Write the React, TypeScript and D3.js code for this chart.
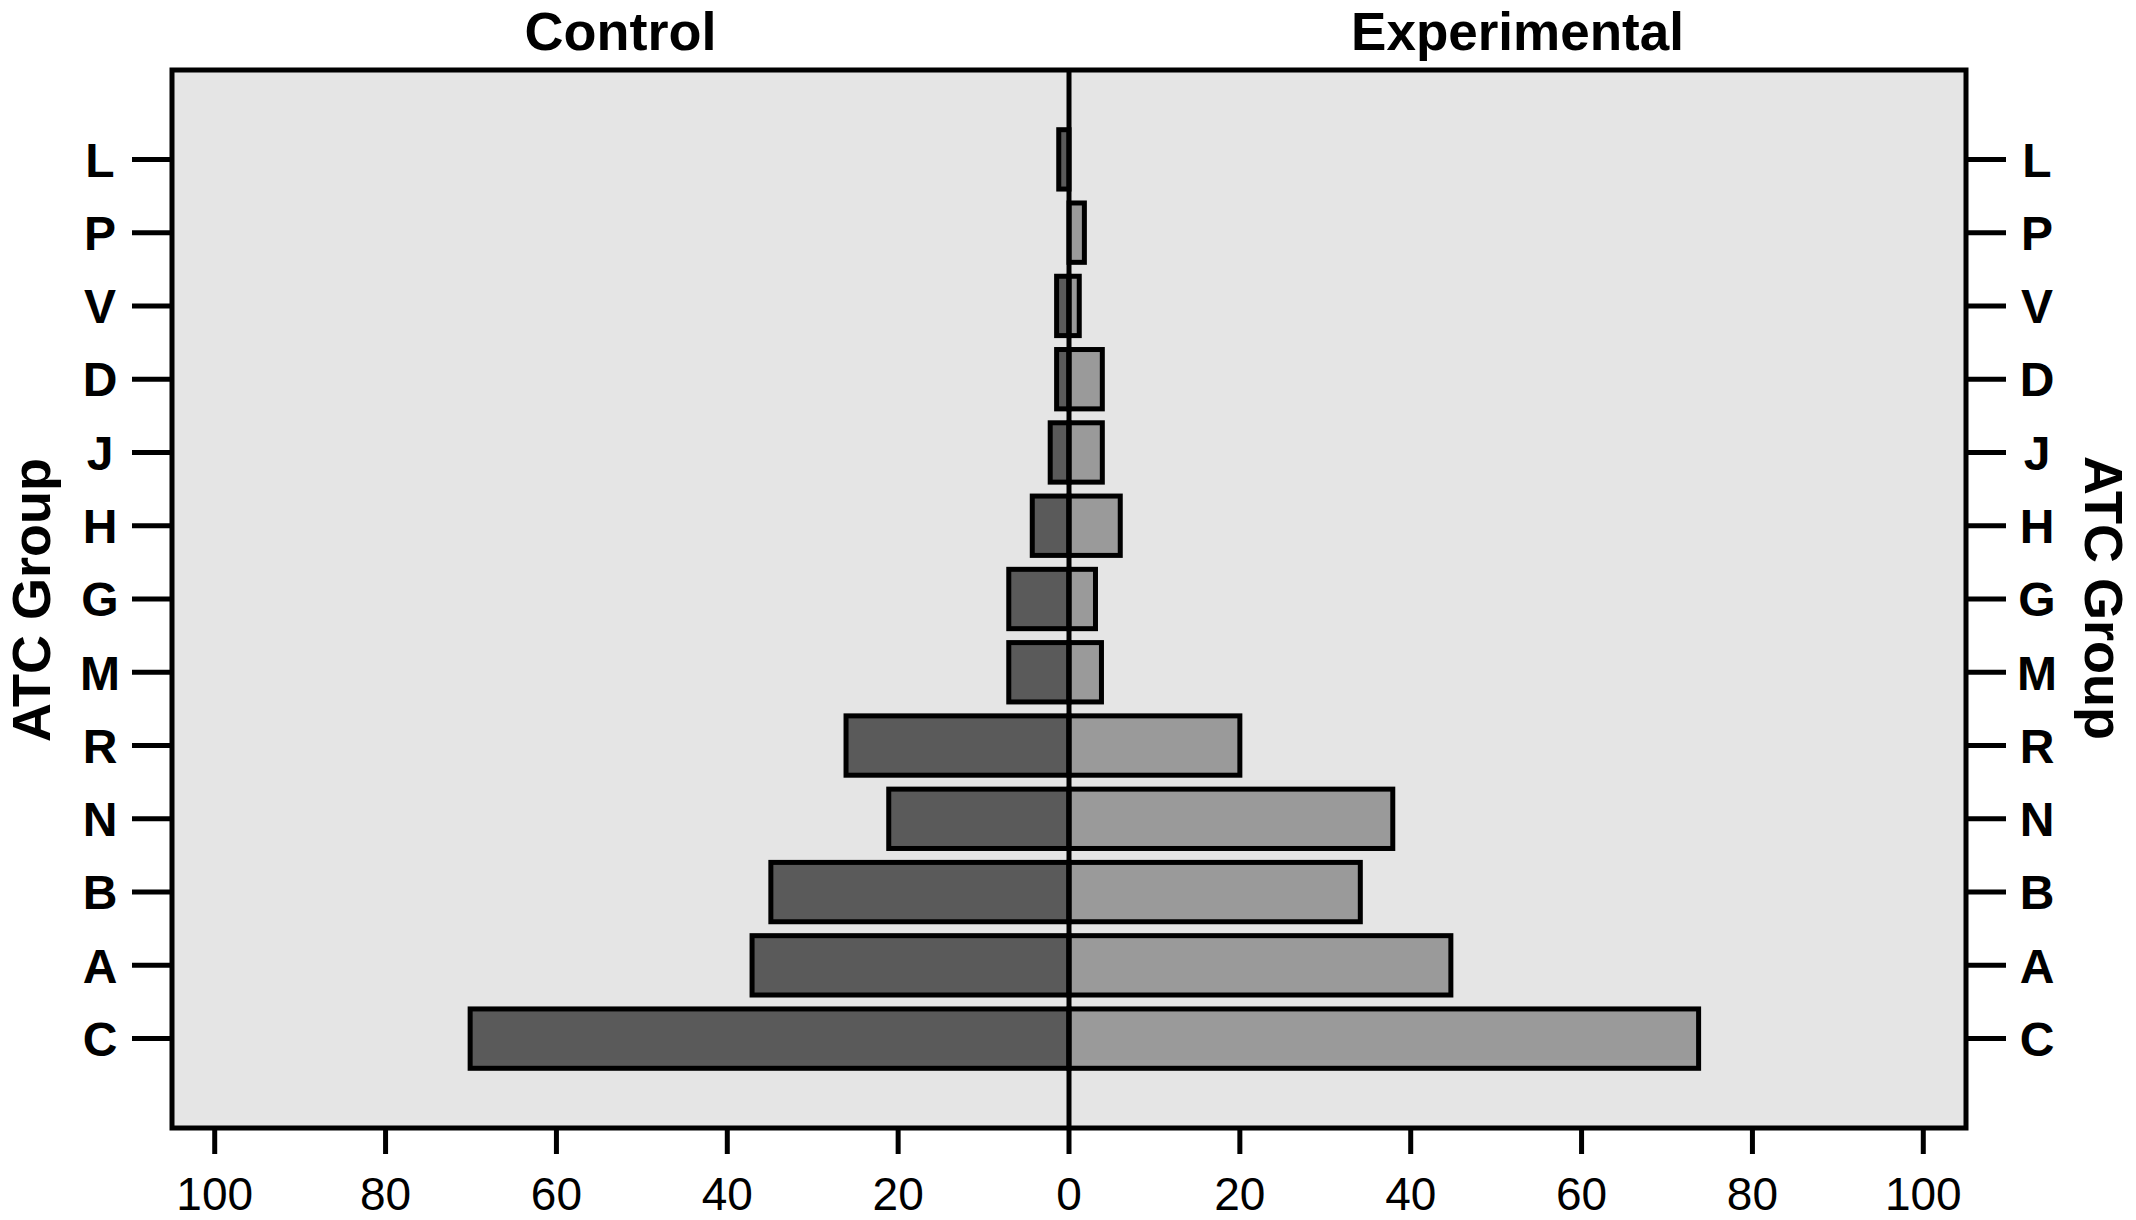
import React from 'react'
import * as d3 from 'd3'

// ── data ────────────────────────────────────────────────────────────────────
const groups       = ['L', 'P', 'V', 'D', 'J', 'H', 'G', 'M', 'R', 'N', 'B', 'A', 'C']
const control      = [1.2, 0, 1.45, 1.45, 2.2, 4.3, 7.05, 7.05, 26.1, 21.1, 34.9, 37.1, 70.1]
const experimental = [0, 1.8, 1.2, 3.9, 3.9, 6.0, 3.1, 3.8, 20.0, 37.9, 34.1, 44.7, 73.7]
const xTicks       = [-100, -80, -60, -40, -20, 0, 20, 40, 60, 80, 100]

// ── layout ──────────────────────────────────────────────────────────────────
const W = 2136
const H = 1220
const F = { left: 172, right: 1966, top: 70, bottom: 1128 }
const FONT = '"Liberation Sans", Arial, Helvetica, sans-serif'
const BG = '#e5e5e5'
const C_CTRL = '#5a5a5a'
const C_EXP = '#9a9a9a'
const SW = 5

export default function App() {
  const x = d3.scaleLinear().domain([-105, 105]).range([F.left, F.right])
  const y = d3.scalePoint<string>().domain(groups).range([F.top, F.bottom]).padding(1.22)
  const barH = y.step() * 0.81
  const x0 = x(0)

  return (
    <svg width={W} height={H} viewBox={`0 0 ${W} ${H}`}
      style={{ position: 'absolute', left: 0, top: 0, background: '#fff' }}
      fontFamily={FONT}>
      {/* panel */}
      <rect x={F.left} y={F.top} width={F.right - F.left} height={F.bottom - F.top} fill={BG} />

      {/* bars */}
      {groups.map((g, i) => {
        const cy = y(g)!
        return (
          <g key={g}>
            {control[i] > 0 && (
              <rect x={x(-control[i])} y={cy - barH / 2} width={x0 - x(-control[i])} height={barH}
                fill={C_CTRL} stroke="#000" strokeWidth={SW} />
            )}
            {experimental[i] > 0 && (
              <rect x={x0} y={cy - barH / 2} width={x(experimental[i]) - x0} height={barH}
                fill={C_EXP} stroke="#000" strokeWidth={SW} />
            )}
          </g>
        )
      })}

      {/* zero line */}
      <line x1={x0} x2={x0} y1={F.top} y2={F.bottom} stroke="#000" strokeWidth={5} />

      {/* frame */}
      <rect x={F.left} y={F.top} width={F.right - F.left} height={F.bottom - F.top}
        fill="none" stroke="#000" strokeWidth={SW} />

      {/* y ticks, both sides */}
      {groups.map(g => {
        const cy = y(g)!
        return (
          <g key={'t' + g}>
            <line x1={F.left - 40} x2={F.left} y1={cy} y2={cy} stroke="#000" strokeWidth={SW} />
            <line x1={F.right} x2={F.right + 40} y1={cy} y2={cy} stroke="#000" strokeWidth={SW} />
            <text x={100} y={cy} dy="0.36em" textAnchor="middle" fontSize={48} fontWeight="bold">{g}</text>
            <text x={2037} y={cy} dy="0.36em" textAnchor="middle" fontSize={48} fontWeight="bold">{g}</text>
          </g>
        )
      })}

      {/* x ticks */}
      {xTicks.map(t => (
        <g key={'x' + t}>
          <line x1={x(t)} x2={x(t)} y1={F.bottom} y2={F.bottom + 26} stroke="#000" strokeWidth={SW} />
          <text x={x(t)} y={1210} textAnchor="middle" fontSize={46}>{Math.abs(t)}</text>
        </g>
      ))}

      {/* titles */}
      <text x={(F.left + x0) / 2} y={50} textAnchor="middle" fontSize={54} fontWeight="bold">Control</text>
      <text x={(x0 + F.right) / 2} y={50} textAnchor="middle" fontSize={53} fontWeight="bold">Experimental</text>

      {/* axis titles */}
      <text transform={`translate(50,600) rotate(-90)`} textAnchor="middle" fontSize={54} fontWeight="bold">ATC Group</text>
      <text transform={`translate(2085,598) rotate(90)`} textAnchor="middle" fontSize={54} fontWeight="bold">ATC Group</text>
    </svg>
  )
}
